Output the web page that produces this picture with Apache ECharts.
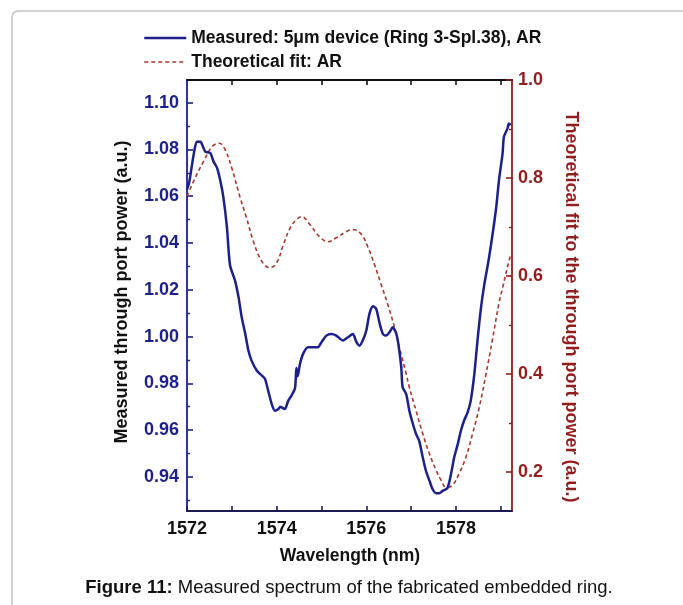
<!DOCTYPE html>
<html>
<head>
<meta charset="utf-8">
<script src="https://cdn.jsdelivr.net/npm/echarts@6/dist/echarts.min.js"></script>
<style>
  html, body { margin: 0; padding: 0; background: #ffffff; }
  #chart { width: 683px; height: 605px; }
</style>
</head>
<body>
<div id="chart"></div>
<script>
// Measured through-port spectrum of the 5 µm ring (left axis)
const measuredWavelength = [
  1572.00, 1572.05, 1572.10, 1572.16, 1572.22, 1572.30, 1572.36, 1572.41, 1572.52, 1572.59,
  1572.67, 1572.74, 1572.81, 1572.89, 1572.96, 1573.07, 1573.15, 1573.22, 1573.30, 1573.37,
  1573.44, 1573.56, 1573.67, 1573.74, 1573.81, 1573.89, 1573.96, 1574.04, 1574.08, 1574.11,
  1574.18, 1574.26, 1574.33, 1574.41, 1574.44, 1574.47, 1574.52, 1574.59, 1574.70, 1574.81,
  1574.92, 1575.00, 1575.11, 1575.22, 1575.33, 1575.48, 1575.59, 1575.70, 1575.78, 1575.85,
  1575.92, 1576.00, 1576.07, 1576.15, 1576.22, 1576.30, 1576.37, 1576.44, 1576.52, 1576.59,
  1576.67, 1576.72, 1576.78, 1576.81, 1576.89, 1576.96, 1577.04, 1577.11, 1577.18, 1577.26,
  1577.33, 1577.41, 1577.48, 1577.56, 1577.63, 1577.70, 1577.81, 1577.89, 1577.96, 1578.04,
  1578.11, 1578.18, 1578.26, 1578.33, 1578.41, 1578.48, 1578.56, 1578.63, 1578.74, 1578.89,
  1578.96, 1579.04, 1579.07, 1579.15, 1579.18, 1579.22
];
const measuredPower = [
  1.063, 1.066, 1.072, 1.079, 1.0833, 1.0833, 1.081, 1.079, 1.0785, 1.0749,
  1.0721, 1.0669, 1.0597, 1.0469, 1.0305, 1.024, 1.0168, 1.0083, 1.0011, 0.994,
  0.9897, 0.9854, 0.9833, 0.9819, 0.9769, 0.9711, 0.9683, 0.969, 0.970, 0.9697,
  0.969, 0.9726, 0.9747, 0.978, 0.9865, 0.983, 0.9883, 0.9926, 0.9954, 0.9954,
  0.9954, 0.9976, 1.0004, 1.0011, 1.0004, 0.9983, 0.9997, 1.0011, 0.9976, 0.9961,
  0.9983, 1.0026, 1.0097, 1.0129, 1.0119, 1.0054, 1.0011, 1.0004, 1.0019, 1.004,
  1.0011, 0.9961, 0.9868, 0.9783, 0.9754, 0.9683, 0.9626, 0.9583, 0.9554, 0.9483,
  0.9426, 0.9383, 0.9347, 0.933, 0.933, 0.934, 0.9352, 0.9412, 0.9483, 0.954,
  0.9597, 0.964, 0.9676, 0.9726, 0.984, 0.9983, 1.0126, 1.022, 1.034, 1.054,
  1.0669, 1.0783, 1.0854, 1.089, 1.0911, 1.0904
];

// Theoretical fit of the through-port power (right axis)
const fitWavelength = [
  1572.00, 1572.18, 1572.37, 1572.56, 1572.72, 1572.85, 1573.00, 1573.18, 1573.33, 1573.48,
  1573.67, 1573.85, 1574.00, 1574.15, 1574.30, 1574.44, 1574.56, 1574.74, 1574.96, 1575.15,
  1575.33, 1575.56, 1575.70, 1575.89, 1576.04, 1576.18, 1576.33, 1576.48, 1576.63, 1576.74,
  1576.89, 1576.96, 1577.11, 1577.26, 1577.41, 1577.56, 1577.67, 1577.78, 1577.92, 1578.07,
  1578.22, 1578.37, 1578.52, 1578.67, 1578.81, 1578.96, 1579.04, 1579.18, 1579.23
];
const fitPower = [
  0.763, 0.800, 0.834, 0.864, 0.871, 0.858, 0.820, 0.762, 0.718, 0.671,
  0.630, 0.617, 0.627, 0.664, 0.698, 0.715, 0.721, 0.705, 0.680, 0.670,
  0.678, 0.691, 0.695, 0.685, 0.658, 0.624, 0.583, 0.542, 0.495, 0.454,
  0.400, 0.373, 0.325, 0.278, 0.237, 0.203, 0.183, 0.169, 0.173, 0.197,
  0.230, 0.278, 0.332, 0.400, 0.468, 0.545, 0.576, 0.630, 0.645
];

// Tick positions
const wavelengthTicks = [1572, 1574, 1576, 1578];
const wavelengthAllTicks = [1572, 1573, 1574, 1575, 1576, 1577, 1578, 1579];
const topTicks = [1573, 1574, 1575, 1576, 1577, 1578, 1579];
const leftTicks = [0.94, 0.96, 0.98, 1.00, 1.02, 1.04, 1.06, 1.08, 1.10];
const leftMinorTicks = [0.93, 0.95, 0.97, 0.99, 1.01, 1.03, 1.05, 1.07, 1.09];
const rightTicks = [0.2, 0.4, 0.6, 0.8, 1.0];
const rightMinorTicks = [0.3, 0.5, 0.7, 0.9];

const NAVY = '#1c1f8c';
const DARK_RED = '#931c1c';
const FIT_RED = '#a8382f';
const FONT = '"Liberation Sans", Arial, sans-serif';

const MEASURED_NAME = 'Measured: 5\u03bcm device (Ring 3-Spl.38), AR';
const FIT_NAME = 'Theoretical fit: AR';

const pairs = (xs, ys) => xs.map((x, i) => [x, ys[i]]);

const X_MIN = 1572, X_MAX = 1579.25;
const L_MIN = 0.9254, L_MAX = 1.1097;
const R_MIN = 0.1206, R_MAX = 1.0;

const chart = echarts.init(document.getElementById('chart'), null, { renderer: 'canvas' });

chart.setOption({
  backgroundColor: '#ffffff',
  animation: false,
  grid: { left: 187, top: 80, width: 325, height: 431, containLabel: false },
  legend: {
    orient: 'vertical',
    left: 143,
    top: 28,
    padding: 0,
    itemGap: 4,
    itemWidth: 42,
    itemHeight: 14,
    selectedMode: false,
    itemStyle: { opacity: 0 },
    textStyle: { fontFamily: FONT, fontWeight: 'bold', fontSize: 17.5, color: '#111', lineHeight: 20 },
    data: [
      { name: MEASURED_NAME, lineStyle: { width: 2.5 } },
      { name: FIT_NAME, lineStyle: { width: 1.6 } }
    ]
  },
  xAxis: [
    {
      type: 'value', position: 'bottom', min: X_MIN, max: X_MAX,
      axisLine: { lineStyle: { color: '#1a1a55', width: 1.8 } },
      axisTick: { inside: true, length: 5, customValues: wavelengthAllTicks, lineStyle: { color: '#1a1a55', width: 1.6 } },
      axisLabel: { customValues: wavelengthTicks, margin: 9, color: '#111', fontFamily: FONT, fontWeight: 'bold', fontSize: 18,
        formatter: v => String(Math.round(v)) },
      splitLine: { show: false }
    },
    {
      type: 'value', position: 'top', min: X_MIN, max: X_MAX,
      axisLine: { lineStyle: { color: '#111', width: 1.8 } },
      axisTick: { inside: true, length: 5, customValues: topTicks, lineStyle: { color: '#111', width: 1.6 } },
      axisLabel: { show: false },
      splitLine: { show: false }
    }
  ],
  yAxis: [
    {
      type: 'value', position: 'left', min: L_MIN, max: L_MAX,
      axisLine: { show: true, lineStyle: { color: NAVY, width: 1.8 } },
      axisTick: { show: true, inside: true, length: 6, customValues: leftTicks, lineStyle: { color: NAVY, width: 1.6 } },
      axisLabel: { customValues: leftTicks, margin: 8, color: NAVY, fontFamily: FONT, fontWeight: 'bold', fontSize: 18,
        formatter: v => v.toFixed(2) },
      splitLine: { show: false }
    },
    {
      type: 'value', position: 'left', offset: 0, min: L_MIN, max: L_MAX,
      axisLine: { show: false },
      axisTick: { show: true, inside: true, length: 3, customValues: leftMinorTicks, lineStyle: { color: NAVY, width: 1.4 } },
      axisLabel: { show: false },
      splitLine: { show: false }
    },
    {
      type: 'value', position: 'right', offset: 0, min: R_MIN, max: R_MAX,
      axisLine: { show: true, lineStyle: { color: DARK_RED, width: 1.8 } },
      axisTick: { show: true, inside: true, length: 6, customValues: rightTicks, lineStyle: { color: DARK_RED, width: 1.6 } },
      axisLabel: { customValues: rightTicks, margin: 6, color: DARK_RED, fontFamily: FONT, fontWeight: 'bold', fontSize: 18,
        formatter: v => v.toFixed(1) },
      splitLine: { show: false }
    },
    {
      type: 'value', position: 'right', offset: 0, min: R_MIN, max: R_MAX,
      axisLine: { show: false },
      axisTick: { show: true, inside: true, length: 3, customValues: rightMinorTicks, lineStyle: { color: DARK_RED, width: 1.4 } },
      axisLabel: { show: false },
      splitLine: { show: false }
    }
  ],
  series: [
    {
      name: MEASURED_NAME,
      type: 'line', xAxisIndex: 0, yAxisIndex: 0,
      data: pairs(measuredWavelength, measuredPower),
      symbol: 'none', smooth: 0.25,
      lineStyle: { color: NAVY, width: 2.5 },
      itemStyle: { color: NAVY },
      z: 3
    },
    {
      name: FIT_NAME,
      type: 'line', xAxisIndex: 0, yAxisIndex: 2,
      data: pairs(fitWavelength, fitPower),
      symbol: 'none', smooth: 0.4,
      lineStyle: { color: FIT_RED, width: 1.6, type: [4, 3] },
      itemStyle: { color: FIT_RED },
      z: 2
    }
  ],
  graphic: [
    {
      type: 'rect', silent: true, z: -10,
      shape: { x: 12, y: 11, width: 720, height: 640, r: 6 },
      style: { fill: 'none', stroke: '#c4c4c4', lineWidth: 1.5 }
    },
    {
      type: 'text', x: 350, y: 556,
      style: { text: 'Wavelength (nm)', font: `bold 17.5px ${FONT}`, fill: '#111', textAlign: 'center', textVerticalAlign: 'middle' }
    },
    {
      type: 'text', x: 122, y: 292, rotation: Math.PI / 2,
      style: { text: 'Measured through port power (a.u.)', font: `bold 18px ${FONT}`, fill: '#111', textAlign: 'center', textVerticalAlign: 'middle' }
    },
    {
      type: 'text', x: 571, y: 307, rotation: -Math.PI / 2,
      style: { text: 'Theoretical fit to the through port power (a.u.)', font: `bold 18px ${FONT}`, fill: DARK_RED, textAlign: 'center', textVerticalAlign: 'middle' }
    },
    {
      type: 'text', x: 349, y: 588,
      style: {
        text: '{b|Figure 11:} Measured spectrum of the fabricated embedded ring.',
        font: `18.5px ${FONT}`, fill: '#111', textAlign: 'center', textVerticalAlign: 'middle',
        rich: { b: { fontWeight: 'bold', fontSize: 18.5, fontFamily: FONT, fill: '#111' } }
      }
    }
  ]
});
</script>
</body>
</html>
